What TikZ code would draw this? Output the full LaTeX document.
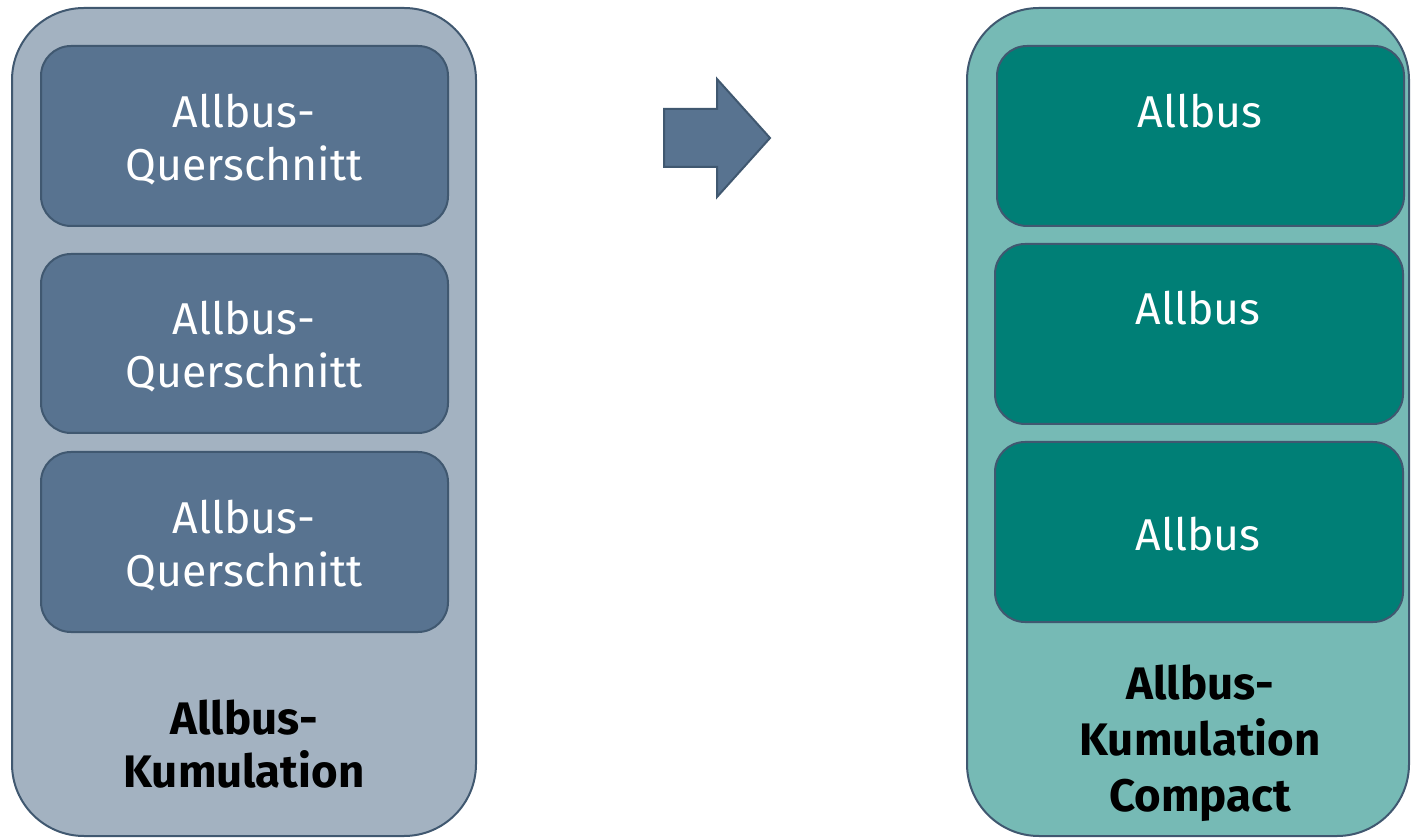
\documentclass[tikz,border=0pt]{standalone}
\usepackage{fontspec}
\setmainfont{Fira Sans}
\definecolor{edge}{HTML}{405870}
\definecolor{outerL}{HTML}{A3B2C1}
\definecolor{innerL}{HTML}{587390}
\definecolor{outerR}{HTML}{76BAB5}
\definecolor{innerR}{HTML}{007F76}
\tikzset{
  outerbox/.style={draw=edge, line width=1pt, rounded corners=36pt},
  innerbox/.style={draw=edge, line width=1pt, rounded corners=15pt},
  boxtext/.style={text=white, font=\fontsize{22.3}{26.5}\selectfont, align=center, inner sep=0pt},
  titletext/.style={text=black, font=\bfseries\fontsize{22.8}{26.5}\selectfont, align=center, inner sep=0pt},
  titletextc/.style={titletext, font=\bfseries\fontsize{22.8}{28}\selectfont},
}
\begin{document}
\begin{tikzpicture}[x=0.5pt,y=-0.5pt]
\useasboundingbox (0,0) rectangle (1411,838);
% left container
\draw[outerbox, fill=outerL] (12,8) rectangle (476,836);
\foreach \n/\t/\b in {l1/46/226, l2/254/433, l3/452/632}{
  \draw[innerbox, fill=innerL] (41,\t) rectangle (448,\b);
}
\node[boxtext] (tl1) at (244,140) {Allbus-\\Querschnitt};
\node[boxtext] (tl2) at (244,347) {Allbus-\\Querschnitt};
\node[boxtext] (tl3) at (244,546) {Allbus-\\Querschnitt};
\node[titletext] (tL) at (244,744) {Allbus-\\Kumulation};
% arrow
\draw[draw=edge, line width=1pt, fill=innerL, line join=miter]
  (664,109) -- (717,109) -- (717,79) -- (770,138) -- (717,197) -- (717,167) -- (664,167) -- cycle;
% right container
\draw[outerbox, fill=outerR] (967,8) rectangle (1409,836);
\draw[innerbox, fill=innerR] (997,46) rectangle (1404,226);
\draw[innerbox, fill=innerR] (995,244) rectangle (1403,424);
\draw[innerbox, fill=innerR] (995,442) rectangle (1403,622);
\node[boxtext] (tr1) at (1200,111) {Allbus};
\node[boxtext] (tr2) at (1198,308) {Allbus};
\node[boxtext] (tr3) at (1198,534) {Allbus};
\node[titletextc] (tR) at (1200,743) {Allbus-\\Kumulation\\Compact};
\end{tikzpicture}
\end{document}
